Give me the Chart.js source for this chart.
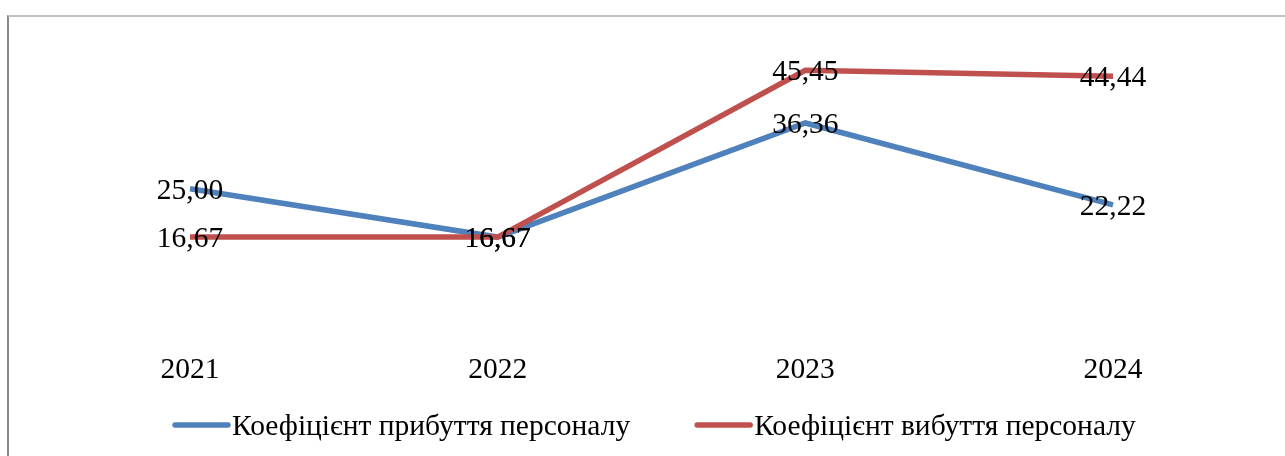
<!DOCTYPE html>
<html>
<head>
<meta charset="utf-8">
<script src="https://cdn.jsdelivr.net/npm/chart.js@4/dist/chart.umd.min.js"></script>
<style>
  html, body { margin: 0; padding: 0; background: #fff; }
  #wrap { position: relative; width: 1285px; height: 456px; overflow: hidden; }
  #frame {
    position: absolute; left: 7px; top: 15px; width: 1300px; height: 460px;
    border-top: 2px solid #c2c2c2; border-left: 2px solid #8a8a8a;
  }
  #mycanvas { position: absolute; left: 0; top: 0; }
</style>
</head>
<body>
<div id="wrap">
  <div id="frame"></div>
  <canvas id="mycanvas" width="1285" height="456"></canvas>
</div>
<script>
var years = ['2021', '2022', '2023', '2024'];
var arrivalName = 'Коефіцієнт прибуття персоналу';
var departureName = 'Коефіцієнт вибуття персоналу';
var arrival = [25.00, 16.67, 36.36, 22.22];
var departure = [16.67, 16.67, 45.45, 44.44];

var serif = '"Liberation Serif", "Times New Roman", serif';

// value labels centred on each point, comma as decimal separator
var valueLabels = {
    id: 'valueLabels',
    afterDatasetsDraw: function(chart){
        var ctx = chart.ctx;
        ctx.save();
        ctx.font = '29.5px ' + serif;
        ctx.fillStyle = '#000';
        ctx.textAlign = 'center';
        ctx.textBaseline = 'middle';
        chart.data.datasets.forEach(function(ds, i){
            var meta = chart.getDatasetMeta(i);
            meta.data.forEach(function(pt, j){
                ctx.fillText(ds.data[j].toFixed(2).replace('.', ','), pt.x, pt.y + 2);
            });
        });
        ctx.restore();
    }
};

// legend row under the axis labels
var bottomLegend = {
    id: 'bottomLegend',
    afterDraw: function(chart){
        var ctx = chart.ctx;
        ctx.save();
        ctx.font = '29.5px ' + serif;
        ctx.textBaseline = 'middle';
        var y = 425;
        var x = 175;
        chart.data.datasets.forEach(function(ds){
            ctx.strokeStyle = ds.borderColor;
            ctx.lineWidth = 5.5;
            ctx.lineCap = 'round';
            ctx.beginPath();
            ctx.moveTo(x, y);
            ctx.lineTo(x + 53, y);
            ctx.stroke();
            ctx.fillStyle = '#000';
            ctx.fillText(ds.label, x + 57, y + 2);
            x += 57 + ctx.measureText(ds.label).width + 67;
        });
        ctx.restore();
    }
};

var ctx = document.getElementById('mycanvas');
var chart = new Chart(ctx, {
    type: 'line',
    data: {
        labels: years,
        datasets: [
            {
                label: arrivalName,
                data: arrival,
                borderColor: '#4F81BD',
                backgroundColor: '#4F81BD',
                borderWidth: 5.5,
                pointRadius: 0,
                tension: 0,
                fill: false,
                order: 1
            },
            {
                label: departureName,
                data: departure,
                borderColor: '#C0504D',
                backgroundColor: '#C0504D',
                borderWidth: 5.5,
                pointRadius: 0,
                tension: 0,
                fill: false,
                order: 0
            }
        ]
    },
    options: {
        responsive: false,
        animation: false,
        layout: { padding: { left: 190, right: 172, top: 44, bottom: 57 } },
        plugins: {
            legend: { display: false },
            tooltip: { enabled: false }
        },
        scales: {
            x: {
                offset: false,
                grid: { display: false },
                border: { display: false },
                ticks: {
                    color: '#000',
                    padding: 11,
                    maxRotation: 0,
                    autoSkip: false,
                    font: { family: serif, size: 29.5 }
                }
            },
            y: {
                display: false,
                min: 0,
                max: 50
            }
        }
    },
    plugins: [valueLabels, bottomLegend]
});
</script>
</body>
</html>
